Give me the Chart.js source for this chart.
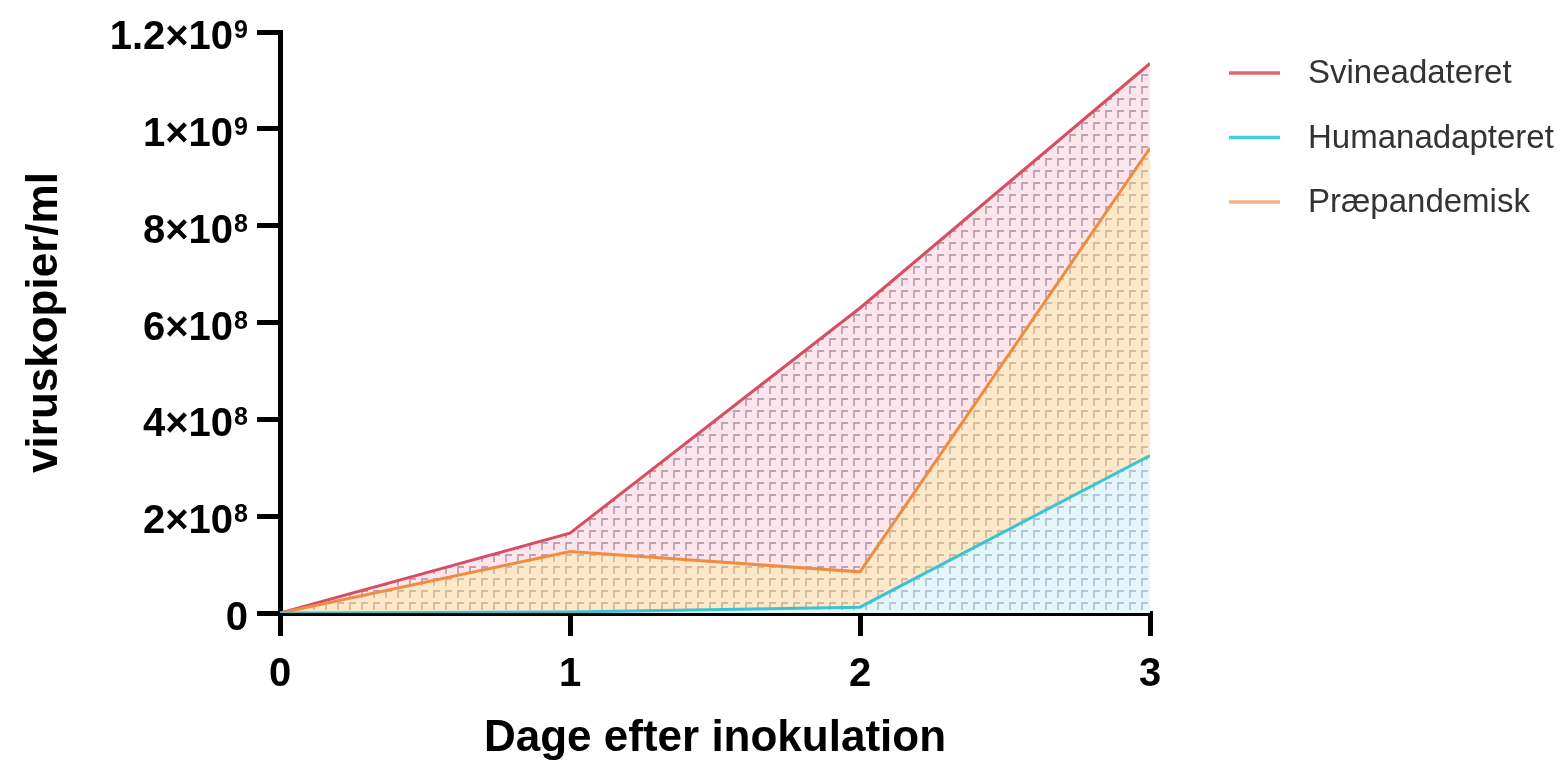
<!DOCTYPE html>
<html>
<head>
<meta charset="utf-8">
<script src="https://cdn.jsdelivr.net/npm/chart.js@4"></script>
<style>
  html, body { margin: 0; padding: 0; background: #fff; }
  #wrap { width: 1564px; height: 769px; }
</style>
</head>
<body>
<div id="wrap"><canvas id="virusChart" width="1564" height="769"></canvas></div>
<script>
// ------------ DATA -------------
const days = [0, 1, 2, 3];
const seriesNames = ["Svineadateret", "Humanadapteret", "Præpandemisk"];
const svineValues = [0, 1.65e8, 6.3e8, 1.135e9];
const humanValues = [0, 2e6, 1.2e7, 3.25e8];
const praeValues = [0, 1.27e8, 8.5e7, 9.6e8];
const yTickValues = [0, 2e8, 4e8, 6e8, 8e8, 1e9, 1.2e9];

const FONT = "'Liberation Sans', Arial, 'DejaVu Sans', sans-serif";

// small "corner" hatch pattern on a tinted background
function makePattern(bg, mark) {
    const c = document.createElement("canvas");
    c.width = 12;
    c.height = 12;
    const g = c.getContext("2d");
    g.fillStyle = bg;
    g.fillRect(0, 0, 12, 12);
    g.strokeStyle = mark;
    g.lineWidth = 1.8;
    g.beginPath();
    g.moveTo(2, 10);
    g.lineTo(2, 3);
    g.lineTo(8, 3);
    g.stroke();
    return g.createPattern(c, "repeat");
}

function toPoints(values) {
    return days.map((d, i) => ({ x: d, y: values[i] }));
}

// split a value into "1.2×10" and "9"
function sciParts(v) {
    if (v === 0) return ["0", ""];
    const exp = Math.floor(Math.log10(v) + 1e-9);
    const mant = Math.round(v / Math.pow(10, exp) * 10) / 10;
    return [`${mant}×10`, String(exp)];
}

// ================== Y TICK LABELS with raised exponent ==================
const sciTicks = {
    id: "sciTicks",
    afterDraw(chart) {
        const ctx = chart.ctx;
        const yScale = chart.scales.y;
        const right = 248;
        ctx.save();
        ctx.fillStyle = "#000";
        ctx.textBaseline = "alphabetic";
        ctx.textAlign = "left";
        yTickValues.forEach(v => {
            const y = yScale.getPixelForValue(v);
            const [base, exp] = sciParts(v);
            ctx.font = `bold 40px ${FONT}`;
            const wBase = ctx.measureText(base).width;
            ctx.font = `bold 25px ${FONT}`;
            const wExp = exp ? ctx.measureText(exp).width + 1 : 0;
            const x0 = right - wBase - wExp;
            ctx.font = `bold 40px ${FONT}`;
            ctx.fillText(base, x0, y + 17);
            if (exp) {
                ctx.font = `bold 25px ${FONT}`;
                ctx.fillText(exp, x0 + wBase + 1, y + 6);
            }
        });
        ctx.restore();
    }
};

// ================== LEGEND (drawn on the right) ==================
const sideLegend = {
    id: "sideLegend",
    afterDraw(chart) {
        const ctx = chart.ctx;
        ctx.save();
        chart.data.datasets.forEach((ds, i) => {
            const y = 73 + i * 64.5;
            ctx.strokeStyle = ds.legendColor;
            ctx.lineWidth = 3.5;
            ctx.beginPath();
            ctx.moveTo(1229, y);
            ctx.lineTo(1280, y);
            ctx.stroke();
            ctx.fillStyle = "#333";
            ctx.font = `33px ${FONT}`;
            ctx.textBaseline = "middle";
            ctx.textAlign = "left";
            ctx.fillText(ds.label, 1308, y + 1);
        });
        ctx.restore();
    }
};

const ctx = document.getElementById("virusChart");

new Chart(ctx, {
    type: "line",
    data: {
        datasets: [
            {
                label: seriesNames[0],
                data: toPoints(svineValues),
                borderColor: "#d64d64",
                legendColor: "#e36478",
                backgroundColor: makePattern("#fce6eb", "rgba(150,115,140,0.6)"),
                borderWidth: 3,
                pointRadius: 0,
                fill: "origin",
                tension: 0,
                order: 3
            },
            {
                label: seriesNames[1],
                data: toPoints(humanValues),
                borderColor: "#3cc3d3",
                legendColor: "#45cce3",
                backgroundColor: makePattern("#e4f6fa", "rgba(130,150,175,0.5)"),
                borderWidth: 3,
                pointRadius: 0,
                fill: "origin",
                tension: 0,
                order: 1
            },
            {
                label: seriesNames[2],
                data: toPoints(praeValues),
                borderColor: "#ee8d42",
                legendColor: "#f7b07e",
                backgroundColor: makePattern("#fde8ca", "rgba(175,140,115,0.5)"),
                borderWidth: 3,
                pointRadius: 0,
                fill: "origin",
                tension: 0,
                order: 2
            }
        ]
    },
    options: {
        responsive: false,
        animation: false,
        layout: {
            padding: { top: 32, right: 414, left: 0, bottom: 0 }
        },
        plugins: {
            legend: { display: false },
            tooltip: { enabled: false }
        },
        scales: {
            x: {
                type: "linear",
                min: 0,
                max: 3,
                afterFit: (s) => { s.height = 769 - 613; },
                afterBuildTicks: (s) => { s.ticks = days.map(v => ({ value: v })); },
                ticks: {
                    color: "#000",
                    font: { family: FONT, size: 40, weight: "bold" },
                    padding: 15,
                    maxRotation: 0
                },
                grid: {
                    display: true,
                    drawOnChartArea: false,
                    drawTicks: true,
                    tickLength: 23,
                    lineWidth: 5,
                    color: "#000"
                },
                border: { display: true, width: 5, color: "#000" },
                title: {
                    display: true,
                    text: "Dage efter inokulation",
                    color: "#000",
                    font: { family: FONT, size: 44, weight: "bold" },
                    padding: { top: 0, bottom: 4 }
                }
            },
            y: {
                type: "linear",
                min: 0,
                max: 1.2e9,
                afterFit: (s) => { s.width = 280; },
                afterBuildTicks: (s) => { s.ticks = yTickValues.map(v => ({ value: v })); },
                ticks: { display: false },
                grid: {
                    display: true,
                    drawOnChartArea: false,
                    drawTicks: true,
                    tickLength: 23,
                    lineWidth: 5,
                    color: "#000"
                },
                border: { display: true, width: 5, color: "#000" },
                title: {
                    display: true,
                    text: "viruskopier/ml",
                    color: "#000",
                    font: { family: FONT, size: 44, weight: "bold" },
                    padding: { top: 18, bottom: 0 }
                }
            }
        }
    },
    plugins: [sciTicks, sideLegend]
});
</script>
</body>
</html>
